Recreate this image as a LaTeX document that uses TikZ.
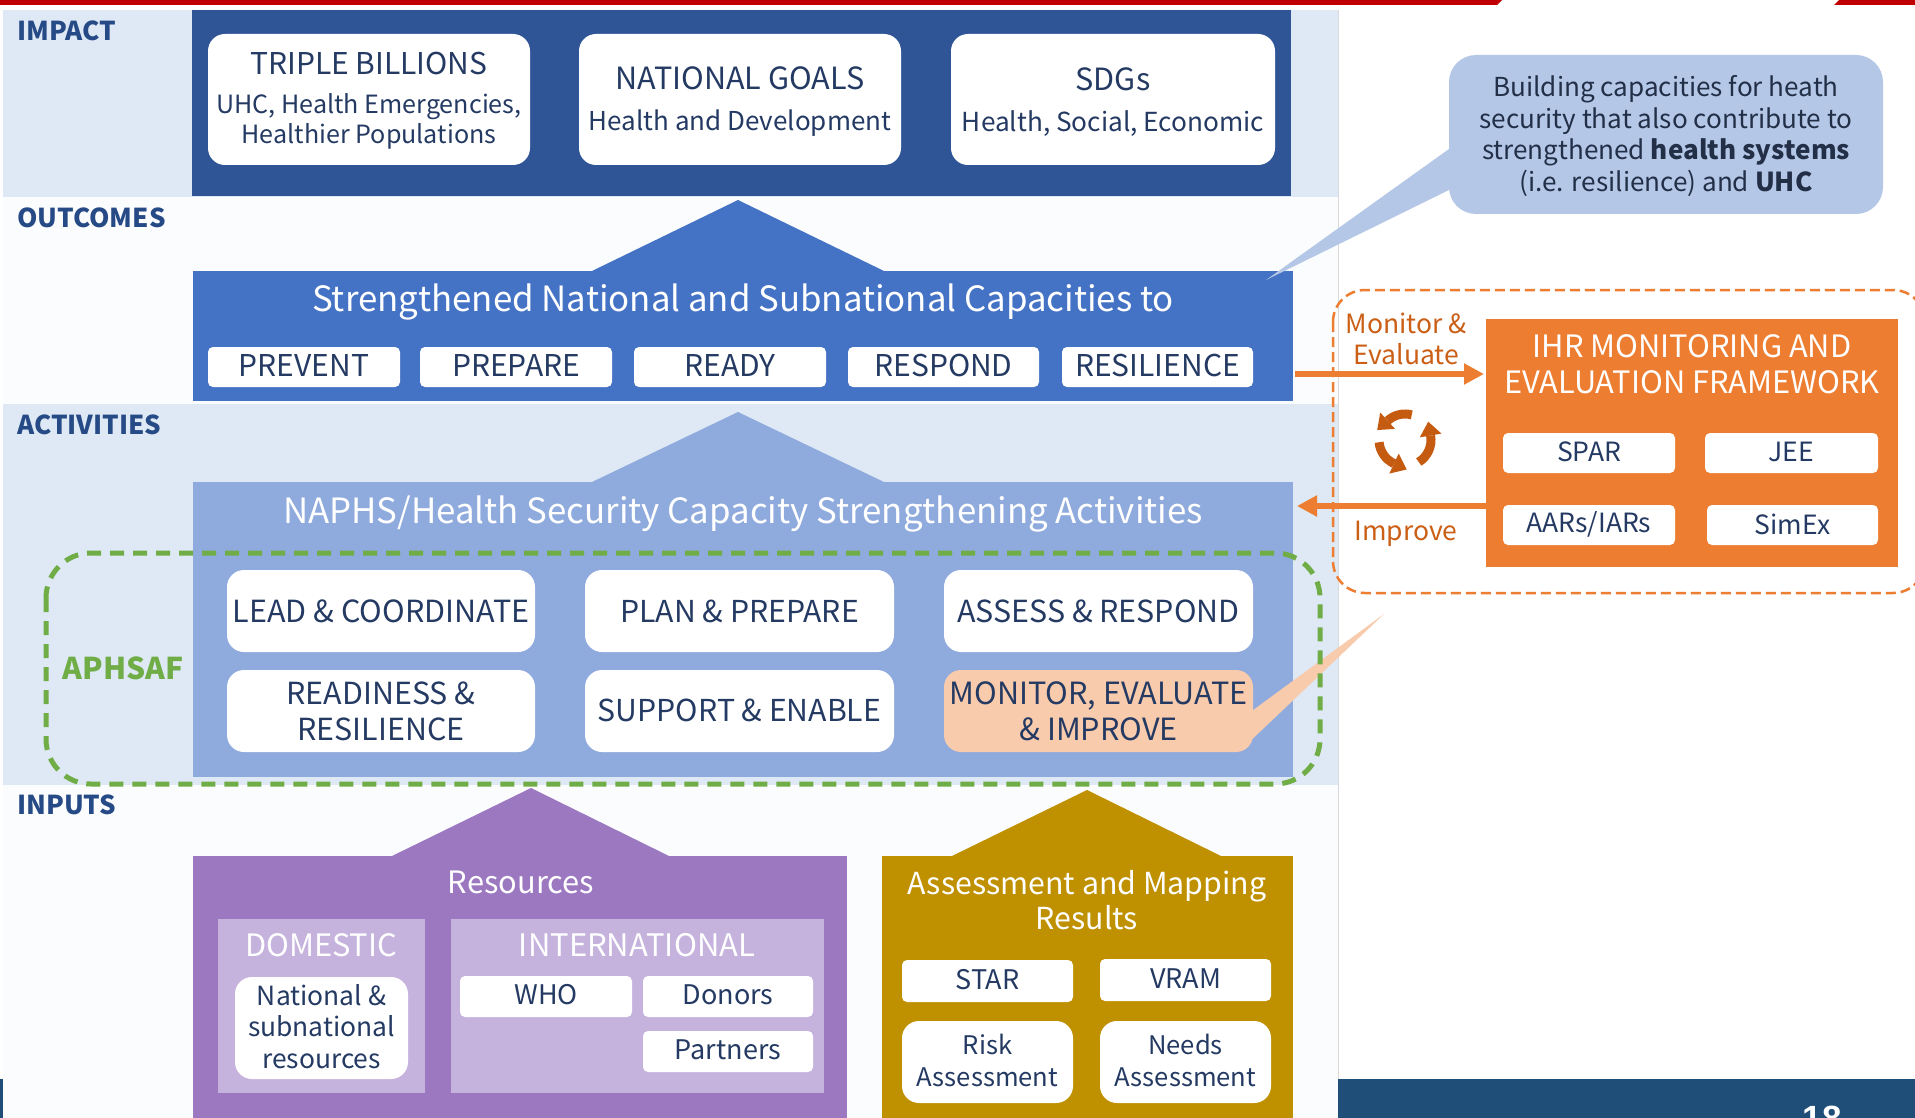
\documentclass[tikz,border=0pt]{standalone}
\usepackage{fontspec}
\setmainfont{Noto Sans CJK JP}
\newfontfamily\numfont{Liberation Sans}
\usetikzlibrary{arrows.meta}
\definecolor{bandA}{HTML}{DEE9F5}
\definecolor{bandB}{HTML}{FBFCFE}
\definecolor{navy}{HTML}{2F5597}
\definecolor{midblue}{HTML}{4472C4}
\definecolor{softblue}{HTML}{8FAADC}
\definecolor{callblue}{HTML}{B4C7E7}
\definecolor{purp}{HTML}{9C78C0}
\definecolor{lilac}{HTML}{C5B3DE}
\definecolor{gold}{HTML}{BF9000}
\definecolor{orng}{HTML}{ED7D31}
\definecolor{rust}{HTML}{C55A11}
\definecolor{peach}{HTML}{F8CBAD}
\definecolor{grn}{HTML}{70AD47}
\definecolor{ink}{HTML}{243A63}
\definecolor{labelink}{HTML}{264A86}
\definecolor{darkink}{HTML}{222F47}
\definecolor{redbar}{HTML}{C00000}
\definecolor{footer}{HTML}{1F4E79}
\newcommand{\fs}[1]{\fontsize{#1}{#1}\selectfont}
\newcommand{\fsl}[2]{\fontsize{#1}{#2}\selectfont}
\newcommand{\bx}[7]{%
  \pgfmathsetmacro\cxx{(#3+#5)/2}\pgfmathsetmacro\cyy{(#4+#6)/2}%
  \pgfmathsetmacro\ww{#5-#3}\pgfmathsetmacro\hh{#6-#4}%
  \node[#1,minimum width=\ww pt,minimum height=\hh pt] (#2) at (\cxx,\cyy) {#7};}
% raise that keeps the box dimensions, so that the node's centring does not undo it
\newcommand{\rb}[2]{\raisebox{#1}[\height][\depth]{#2}}
% raised centred block: raise, width, content
\newcommand{\ub}[3]{\rb{#1}{\parbox{#2}{\centering #3\par}}}
% one arc of the cycle icon: visual start and end angles
\newcommand{\cycarc}[2]{%
  \draw[cycleicon] (cyc) ++({-(#1)}:26) arc[start angle={-(#1)},end angle={-(#2)},radius=26];
  \fill[rust,shift={(cyc)},rotate=#2] (15,0) -- (37,0) -- (26,-14) -- cycle;}
\tikzset{
  basebx/.style={inner sep=0pt,outer sep=0pt,align=center,text=ink},
  panel/.style={basebx,rectangle},
  roundbox/.style={basebx,fill=white,rounded corners=17pt},
  tagbox/.style={basebx,fill=white,rounded corners=5pt},
  peachbox/.style={roundbox,fill=peach},
  bandlabel/.style={inner sep=0pt,anchor=west,text=labelink,font=\bfseries\fontsize{26}{26}\selectfont},
  paneltitle/.style={inner sep=0pt,align=center,text=white},
  flowarrow/.style={line width=5.5pt,orng,-{Triangle[width=20pt,length=20pt]}},
  cycleicon/.style={line width=9pt,rust},
}
\begin{document}
\begin{tikzpicture}[x=1pt,y=-1pt]
\useasboundingbox (0,0) rectangle (1915,1118);
\clip (0,0) rectangle (1915,1118);
\fill[white] (0,0) rectangle (1915,1118);
% top bar
\fill[redbar] (0,0) -- (1502,0) -- (1497,5) -- (0,5) -- cycle;
\fill[redbar] (1839,0) -- (1915,0) -- (1915,5) -- (1834,5) -- cycle;
% bands
\fill[bandA] (3,10) rectangle (1338,197);
\fill[bandB] (3,197) rectangle (1338,404);
\fill[bandA] (3,404) rectangle (1338,785);
\fill[bandB] (3,785) rectangle (1338,1118);
\draw[black!15,line width=.6pt] (1338,10) -- (1338,1079);
\node[bandlabel] (limpact) at (17,31) {IMPACT};
\node[bandlabel] (loutcomes) at (17,218) {OUTCOMES};
\node[bandlabel] (lactivities) at (17,425) {ACTIVITIES};
\node[bandlabel] (linputs) at (17,805) {INPUTS};
% footer
\fill[footer] (1338,1079) rectangle (1915,1118);
\fill[footer] (0,1079) rectangle (3,1118);
\node[inner sep=0pt,anchor=base,text=white,font=\numfont\bfseries\fontsize{35}{35}\selectfont] (pagenum) at (1822,1130) {18};
% impact
\bx{panel,fill=navy}{impact}{192}{10}{1291}{196}{}
\bx{roundbox}{triple}{208}{34}{530}{165}{\parbox{322pt}{\centering\vspace*{2pt}{\fs{30}TRIPLE BILLIONS\par}\vspace{9pt}{\fsl{25.1}{30}UHC, Health Emergencies,\\Healthier Populations\par}}}
\bx{roundbox}{natgoals}{579}{34}{901}{165}{\ub{-2.4pt}{322pt}{{\fs{30.6}NATIONAL GOALS\par}\vspace{15pt}{\fs{26}Health and Development\par}}}
\bx{roundbox}{sdgs}{951}{34}{1275}{165}{\ub{-2.4pt}{322pt}{{\fs{30.6}SDGs\par}\vspace{15pt}{\fs{26.2}Health, Social, Economic\par}}}
% outcomes
\fill[midblue] (592,271) -- (738,200) -- (884,271) -- cycle;
\bx{panel,fill=midblue}{outc}{193}{271}{1293}{401}{}
\node[paneltitle,font=\fs{34.8}] (outctitle) at (743,302) {Strengthened National and Subnational Capacities to};
\bx{tagbox}{prevent}{208}{347}{400}{387}{\rb{1pt}{\fs{30}PREVENT}}
\bx{tagbox}{prepare}{420}{347}{612}{387}{\rb{1pt}{\fs{30}PREPARE}}
\bx{tagbox}{ready}{634}{347}{826}{387}{\rb{1pt}{\fs{30}READY}}
\bx{tagbox}{respond}{848}{347}{1039}{387}{\rb{1pt}{\fs{30}RESPOND}}
\bx{tagbox}{resilience}{1062}{347}{1253}{387}{\rb{1pt}{\fs{30}RESILIENCE}}
% activities
\fill[softblue] (592,482) -- (738,412) -- (884,482) -- cycle;
\bx{panel,fill=softblue}{actv}{193}{482}{1293}{777}{}
\node[paneltitle,font=\fs{34.8}] (actvtitle) at (743,514) {NAPHS/Health Security Capacity Strengthening Activities};
\bx{roundbox}{lead}{227}{570}{535}{652}{\fs{30.5}LEAD \& COORDINATE}
\bx{roundbox}{plan}{585}{570}{894}{652}{\fs{30.2}PLAN \& PREPARE}
\bx{roundbox}{assess}{944}{570}{1253}{652}{\fs{30.4}ASSESS \& RESPOND}
\bx{roundbox,font=\fsl{30.4}{36}}{ready2}{227}{670}{535}{752}{READINESS \&\\RESILIENCE}
\bx{roundbox}{support}{585}{670}{894}{752}{\rb{1pt}{\fs{30.2}SUPPORT \& ENABLE}}
\fill[peach] (1245,716) -- (1384,614) -- (1245,746) -- cycle;
\bx{peachbox,font=\fsl{30.6}{36}}{monitor}{944}{670}{1253}{752}{MONITOR, EVALUATE\\\& IMPROVE}
% inputs: resources
\fill[purp] (392,856) -- (531,788) -- (669,856) -- cycle;
\bx{panel,fill=purp}{resources}{193}{856}{847}{1130}{}
\node[paneltitle,font=\fs{30.8}] (restitle) at (521,882) {Resources};
\bx{panel,fill=lilac}{domestic}{218}{919}{425}{1093}{}
\bx{panel,fill=lilac}{international}{451}{919}{824}{1093}{}
\node[paneltitle,font=\fs{30.8}] (domtitle) at (321,945) {DOMESTIC};
\node[paneltitle,font=\fs{31}] (inttitle) at (637,945) {INTERNATIONAL};
\bx{roundbox}{natsub}{235}{977}{408}{1079}{\ub{1.5pt}{170pt}{\fsl{26.4}{31.5}National \&\\subnational\\resources}}
\bx{tagbox}{who}{460}{976}{632}{1017}{\rb{1.5pt}{\fs{27}WHO}}
\bx{tagbox}{donors}{643}{976}{813}{1017}{\rb{1.5pt}{\fs{27}Donors}}
\bx{tagbox}{partners}{643}{1031}{813}{1072}{\rb{2pt}{\fs{27}Partners}}
% inputs: assessment
\fill[gold] (952,856) -- (1087,790) -- (1221,856) -- cycle;
\bx{panel,fill=gold}{assessres}{882}{856}{1293}{1130}{}
\node[paneltitle,font=\fsl{30.3}{35}] (asstitle) at (1087,900) {Assessment and Mapping\\Results};
\bx{tagbox}{star}{902}{960}{1073}{1002}{\rb{1pt}{\fs{27}STAR}}
\bx{tagbox}{vram}{1100}{959}{1271}{1001}{\rb{1pt}{\fs{27}VRAM}}
\bx{roundbox}{risk}{902}{1021}{1073}{1103}{\ub{2pt}{170pt}{\fsl{25.6}{32}Risk\\Assessment}}
\bx{roundbox}{needs}{1100}{1021}{1271}{1103}{\ub{2pt}{170pt}{\fsl{25.6}{32}Needs\\Assessment}}
% APHSAF
\draw[grn,line width=5pt,dash pattern=on 14pt off 9pt,rounded corners=45pt] (46,553) rectangle (1320,784);
\node[inner sep=0pt,text=grn,font=\bfseries\fs{30}] (aphsaf) at (123,668) {APHSAF};
% callout
\fill[callblue] (1449,149) -- (1266,280) -- (1449,190) -- cycle;
\bx{basebx,fill=callblue,rounded corners=27pt,text=darkink}{call}{1449}{55}{1883}{214}{\ub{-1.5pt}{430pt}{\fsl{26.1}{31.5}Building capacities for heath\\security that also contribute to\\strengthened \textbf{health systems}\\(i.e. resilience) and \textbf{UHC}}}
% IHR
\bx{panel,fill=orng}{ihr}{1486}{319}{1898}{567}{}
\node[paneltitle,font=\fsl{30.8}{36}] (ihrtitle) at (1692,364) {IHR MONITORING AND\\EVALUATION FRAMEWORK};
\bx{tagbox}{spar}{1503}{433}{1675}{473}{\rb{1pt}{\fs{26.5}SPAR}}
\bx{tagbox}{jee}{1705}{433}{1878}{473}{\rb{1pt}{\fs{26.5}JEE}}
\bx{tagbox}{aars}{1503}{505}{1675}{545}{\rb{1pt}{\fs{26.5}AARs/IARs}}
\bx{tagbox}{simex}{1707}{505}{1878}{545}{\rb{1pt}{\fs{26.5}SimEx}}
\draw[flowarrow] ([shift={(2pt,-38pt)}]outc.east) -- ([shift={(-2pt,69pt)}]ihr.west);
\draw[flowarrow] ([yshift=-63pt]ihr.west) -- ([shift={(4pt,123.5pt)}]actv.east);
\node[inner sep=0pt,align=center,text=rust!85!orng,font=\fsl{26.5}{31}] (monev) at (1406,339) {Monitor \&\\Evaluate};
\node[inner sep=0pt,text=rust!85!orng,font=\fs{26.5}] (improve) at (1406,534) {Improve};
\draw[orng,line width=2.5pt,dash pattern=on 10pt off 5pt,rounded corners=32pt] (1333,290) rectangle (1925,593);
% cycle icon
\coordinate (cyc) at (1405,440);
\cycarc{75}{132}
\cycarc{-58}{10}
\cycarc{185}{245}
\end{tikzpicture}
\end{document}
